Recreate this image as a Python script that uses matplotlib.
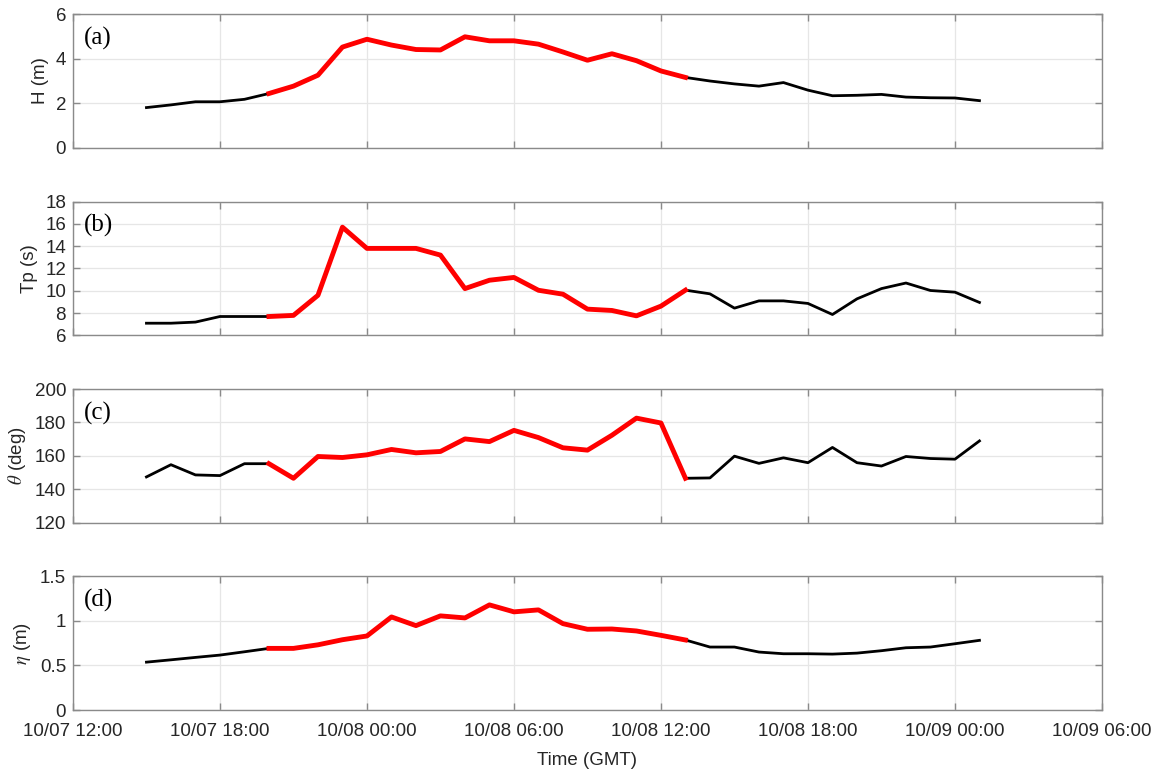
import numpy as np
import pandas as pd
import matplotlib
matplotlib.use('Agg')
import matplotlib.pyplot as plt
import matplotlib.dates as mdates

plt.rcParams['font.family'] = ['Liberation Sans', 'DejaVu Sans']
plt.rcParams['mathtext.fontset'] = 'stix'

# hourly record, 10/07 15:00 to 10/09 01:00
time = pd.date_range('2020-10-07 15:00', periods=35, freq='h')

H = [1.81, 1.93, 2.07, 2.07, 2.18, 2.44, 2.77, 3.26, 4.52, 4.87,
     4.61, 4.41, 4.39, 4.98, 4.80, 4.80, 4.65, 4.30, 3.93, 4.22,
     3.91, 3.45, 3.16, 3.00, 2.87, 2.77, 2.93, 2.59, 2.34, 2.36,
     2.40, 2.28, 2.25, 2.24, 2.12]
Tp = [7.1, 7.1, 7.2, 7.7, 7.7, 7.7, 7.8, 9.6, 15.7, 13.8,
      13.8, 13.8, 13.2, 10.2, 10.95, 11.2, 10.05, 9.7, 8.36, 8.24,
      7.76, 8.63, 10.06, 9.73, 8.45, 9.1, 9.1, 8.87, 7.88, 9.28,
      10.2, 10.7, 10.03, 9.88, 8.96]
theta = [147.5, 154.8, 148.7, 148.3, 155.4, 155.4, 146.7, 159.7, 159.1, 160.7,
         163.9, 161.9, 162.7, 170.2, 168.6, 175.3, 171.0, 164.9, 163.5, 172.4,
         182.6, 179.7, 146.7, 146.9, 159.9, 155.6, 158.9, 156.0, 165.1, 156.0,
         154.0, 159.7, 158.5, 158.1, 169.0]
eta = [0.536, 0.562, 0.589, 0.615, 0.652, 0.69, 0.69, 0.73, 0.787, 0.829,
       1.042, 0.945, 1.054, 1.031, 1.177, 1.099, 1.121, 0.967, 0.904, 0.907,
       0.885, 0.836, 0.784, 0.705, 0.705, 0.649, 0.63, 0.63, 0.626, 0.637,
       0.664, 0.697, 0.705, 0.742, 0.78]

# storm window drawn in red
i0, i1 = 5, 22

series = [H, Tp, theta, eta]
ylabels = ['H (m)', 'Tp (s)', r'$\theta$ (deg)', r'$\eta$ (m)']
panel = ['(a)', '(b)', '(c)', '(d)']
ylims = [(0, 6), (6, 18), (120, 200), (0, 1.5)]
yticks = [[0, 2, 4, 6], [6, 8, 10, 12, 14, 16, 18], [120, 140, 160, 180, 200],
          [0, 0.5, 1, 1.5]]
yticklabels = [None, None, None, ['0', '0.5', '1', '1.5']]

fig = plt.figure(figsize=(11.58, 7.70), dpi=100)
bottoms = [0.8078, 0.5643, 0.3208, 0.0779]
spine_c = '#8a8a8a'
fs = 13.5

for k in range(4):
    ax = fig.add_axes([0.063, bottoms[k], 0.8886, 0.174])
    y = np.array(series[k])
    ax.plot(time, y, color='black', lw=2.0, zorder=3)
    ax.plot(time[i0:i1 + 1], y[i0:i1 + 1], color='red', lw=3.5, zorder=4)
    ax.set_xlim(pd.Timestamp('2020-10-07 12:00'), pd.Timestamp('2020-10-09 06:00'))
    ax.set_ylim(*ylims[k])
    ax.set_yticks(yticks[k])
    if yticklabels[k]:
        ax.set_yticklabels(yticklabels[k])
    ax.xaxis.set_major_locator(mdates.HourLocator(byhour=[0, 6, 12, 18]))
    ax.xaxis.set_major_formatter(mdates.DateFormatter('%m/%d %H:%M'))
    ax.grid(True, color='#e6e6e6', lw=0.9)
    ax.set_axisbelow(True)
    for s in ax.spines.values():
        s.set_color(spine_c)
        s.set_linewidth(1.0)
    ax.tick_params(direction='in', length=5, width=1, color=spine_c,
                   labelsize=fs, labelcolor='#262626', top=True, right=True)
    ax.tick_params(axis='y', pad=5)
    ax.tick_params(axis='x', pad=9)
    ax.set_ylabel(ylabels[k], fontsize=fs, color='#262626', labelpad=5)
    ax.text(0.011, 0.82, panel[k], transform=ax.transAxes, fontsize=18,
            family='Liberation Serif', va='center', ha='left', zorder=5)
    if k < 3:
        ax.tick_params(labelbottom=False)
    else:
        ax.set_xlabel('Time (GMT)', fontsize=fs, color='#262626', labelpad=9)

plt.savefig('out.png', dpi=100)
